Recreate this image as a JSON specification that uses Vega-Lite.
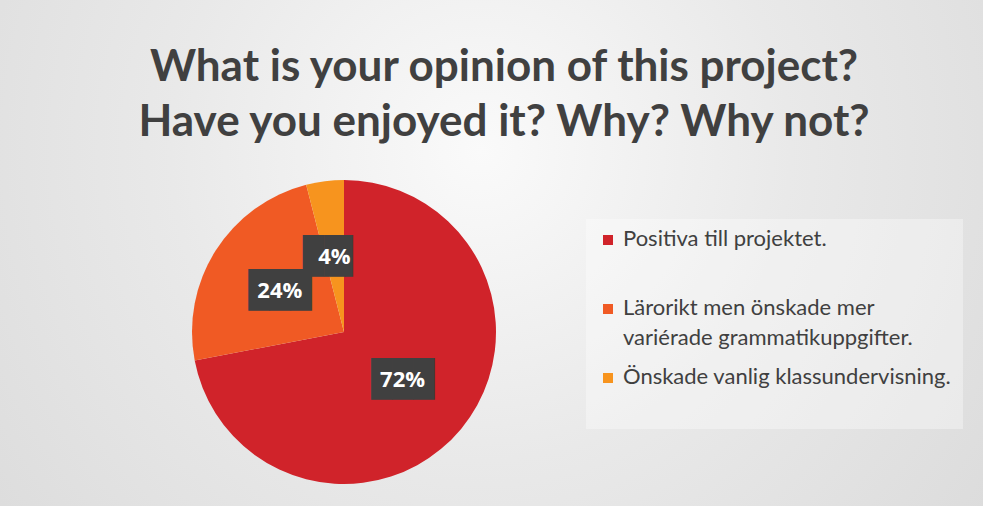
{
  "$schema": "https://vega.github.io/schema/vega-lite/v6.json",
  "autosize": {"type": "none"},
  "width": 304,
  "height": 304,
  "padding": {"left": 192, "top": 180, "right": 487, "bottom": 22},
  "background": "#e6e6e6",
  "title": {
    "text": ["What is your opinion of this project?", "Have you enjoyed it? Why? Why not?"],
    "anchor": "middle",
    "frame": "group",
    "dx": 160,
    "dy": 598,
    "offset": 35,
    "font": "Lato",
    "fontSize": 44,
    "fontWeight": "bold",
    "color": "#404040",
    "lineHeight": 55
  },
  "config": {"view": {"stroke": null}},
  "data": {
    "values": [
      {"category": "Positiva till projektet.", "pct": 72, "rank": 1},
      {"category": "Lärorikt men önskade mer variérade grammatikuppgifter.", "pct": 24, "rank": 2},
      {"category": "Önskade vanlig klassundervisning.", "pct": 4, "rank": 3}
    ]
  },
  "layer": [
    {
      "transform": [{"aggregate": [{"op": "sum", "field": "pct", "as": "total"}]}],
      "mark": {
        "type": "arc",
        "radius": 750,
        "theta": 0,
        "theta2": 6.2832,
        "stroke": null,
        "fill": {
          "gradient": "radial",
          "x1": 0.591, "y1": 0.379, "r1": 0,
          "x2": 0.591, "y2": 0.379, "r2": 0.413,
          "stops": [
            {"offset": 0, "color": "#fafafa"},
            {"offset": 0.5, "color": "#e9e9e9"},
            {"offset": 1, "color": "#dcdcdc"}
          ]
        }
      },
      "encoding": {}
    },
    {
      "mark": {"type": "arc", "stroke": null},
      "encoding": {
        "theta": {"field": "pct", "type": "quantitative", "stack": true},
        "order": {"field": "rank", "type": "quantitative"},
        "color": {
          "field": "category",
          "type": "nominal",
          "scale": {
            "domain": ["Positiva till projektet.", "Lärorikt men önskade mer variérade grammatikuppgifter.", "Önskade vanlig klassundervisning."],
            "range": ["#D0232A", "#F05A24", "#F7941E"]
          },
          "legend": {
            "title": null,
            "orient": "none",
            "legendX": 394,
            "legendY": 39,
            "fillColor": "rgba(255,255,255,0.35)",
            "padding": 11,
            "symbolType": "M-1,-1.2H1V0.8H-1Z",
            "symbolSize": 100,
            "symbolStrokeWidth": 0,
            "labelFont": "Lato",
            "labelFontSize": 22,
            "labelColor": "#404040",
            "labelBaseline": "top",
            "labelLimit": 400,
            "rowPadding": 17,
            "labelExpr": "datum.label == 'Positiva till projektet.' ? ['Positiva till projektet.', ''] : (indexof(datum.label, 'Lärorikt') == 0 ? ['Lärorikt men önskade mer', 'variérade grammatikuppgifter.'] : [datum.label, ''])",
            "encoding": {"labels": {"lineHeight": {"value": 30}, "dy": {"value": -12}}}
          }
        }
      }
    },
    {
      "transform": [{"calculate": "datum.pct < 10 ? '██▍' : '███'", "as": "box"}],
      "mark": {"type": "text", "radius": 76, "font": "DejaVu Sans Mono", "fontSize": 35, "color": "#404040", "baseline": "middle"},
      "encoding": {
        "theta": {"field": "pct", "type": "quantitative", "stack": true},
        "order": {"field": "rank", "type": "quantitative"},
        "text": {"field": "box"}
      }
    },
    {
      "transform": [{"calculate": "datum.pct + '%'", "as": "lbl"}],
      "mark": {"type": "text", "radius": 76, "font": "Open Sans", "fontSize": 22, "fontWeight": "bold", "color": "white", "baseline": "middle"},
      "encoding": {
        "theta": {"field": "pct", "type": "quantitative", "stack": true},
        "order": {"field": "rank", "type": "quantitative"},
        "text": {"field": "lbl"}
      }
    }
  ]
}
